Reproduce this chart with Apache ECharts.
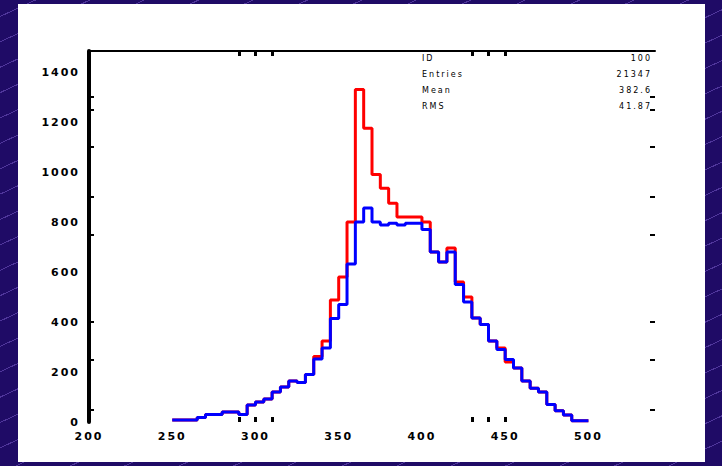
<!DOCTYPE html>
<html><head><meta charset="utf-8">
<script src="https://cdn.jsdelivr.net/npm/echarts@6/dist/echarts.min.js"></script>
<style>
html,body{margin:0;padding:0;width:722px;height:466px;overflow:hidden;}
body{background-color:#1f0b66;background-image:repeating-linear-gradient(-25deg, rgba(0,0,0,0) 0px, rgba(0,0,0,0) 22px, rgba(120,90,200,0.55) 22px, rgba(120,90,200,0.55) 23px);}
#panel{position:absolute;left:18px;top:4px;width:687px;height:458px;background:#fff;}
#chart{position:absolute;left:0;top:0;width:722px;height:466px;}
#chart text{letter-spacing:2px;}
</style></head><body>
<div id="panel"></div><div id="chart"></div>
<script>
// bin left edges (bin width 5)
const binEdges = [250,255,260,265,270,275,280,285,290,295,300,305,310,315,320,325,330,335,340,345,350,355,360,365,370,375,380,385,390,395,400,405,410,415,420,425,430,435,440,445,450,455,460,465,470,475,480,485,490,495];
const lastEdge = 500;
const blueCounts = [8,8,8,18,30,30,40,40,30,68,80,92,120,140,164,158,190,252,296,414,470,632,800,856,800,788,795,788,795,795,770,680,640,680,550,480,416,390,324,290,250,216,164,135,120,70,45,28,5,5];
const redCounts  = [8,8,8,18,30,30,40,40,30,68,80,92,120,140,164,158,190,262,324,488,580,800,1330,1175,990,935,875,820,820,820,800,680,640,696,560,500,416,390,324,296,240,216,164,135,120,70,45,28,5,5];
const xTickLabels = [200,250,300,350,400,450,500];
const yTickLabels = [0,200,400,600,800,1000,1200,1400];
const xMinorTicks = [290,300,310,430,440,450];
const yMinorTicks = [50,250,400,750,900,1100,1250,1300];
const statNames = ['ID','Entries','Mean','RMS'];
const statValues = ['100','21347','382.6','41.87'];

function stepData(vals){
  const d = binEdges.map((e,i)=>[e, vals[i]]);
  d.push([lastEdge, vals[vals.length-1]]);
  return d;
}

const chart = echarts.init(document.getElementById('chart'), null, {renderer:'svg'});
const labelStyle = {color:'#000', fontFamily:'DejaVu Sans', fontWeight:'bold', fontSize:11, formatter:function(v){return String(v);}};
const statRowsTop = [54,70,86,102];
const graphics = [];
statNames.forEach((n,i)=>{
  graphics.push({type:'text', left:422, top:statRowsTop[i], style:{text:n, fill:'#000', font:'8px DejaVu Sans'}});
  graphics.push({type:'text', right:70, top:statRowsTop[i], style:{text:statValues[i], fill:'#000', font:'8px DejaVu Sans', textAlign:'right'}});
});

chart.setOption({
  animation:false,
  backgroundColor:'transparent',
  grid:{left:89, right:67, top:51, bottom:44, containLabel:false},
  xAxis:[
    {type:'value', position:'bottom', min:200, max:540,
     axisLine:{show:false, onZero:false},
     axisTick:{show:true, inside:true, length:5, customValues:xMinorTicks, lineStyle:{color:'#000', width:3}},
     axisLabel:Object.assign({customValues:xTickLabels, margin:9}, labelStyle),
     splitLine:{show:false}},
    {type:'value', position:'top', min:200, max:540,
     axisLine:{show:true, onZero:false, lineStyle:{color:'#000', width:2}},
     axisTick:{show:true, inside:true, length:5, customValues:xMinorTicks, lineStyle:{color:'#000', width:3}},
     axisLabel:{show:false}, splitLine:{show:false}}
  ],
  yAxis:[
    {type:'value', position:'left', min:0, max:1484,
     axisLine:{show:true, onZero:false, lineStyle:{color:'#000', width:4}},
     axisTick:{show:true, inside:true, length:5, customValues:yMinorTicks, lineStyle:{color:'#000', width:2}},
     axisLabel:Object.assign({customValues:yTickLabels, margin:9}, labelStyle),
     splitLine:{show:false}},
    {type:'value', position:'right', min:0, max:1484,
     axisLine:{show:false, onZero:false},
     axisTick:{show:true, inside:true, length:5, customValues:yMinorTicks, lineStyle:{color:'#000', width:2}},
     axisLabel:{show:false}, splitLine:{show:false}}
  ],
  series:[
    {type:'line', step:'end', data:stepData(redCounts), symbol:'none', lineStyle:{color:'#ff0000', width:3}, z:2},
    {type:'line', step:'end', data:stepData(blueCounts), symbol:'none', lineStyle:{color:'#0000ff', width:3}, z:3}
  ],
  graphic:graphics
});
</script>
</body></html>
